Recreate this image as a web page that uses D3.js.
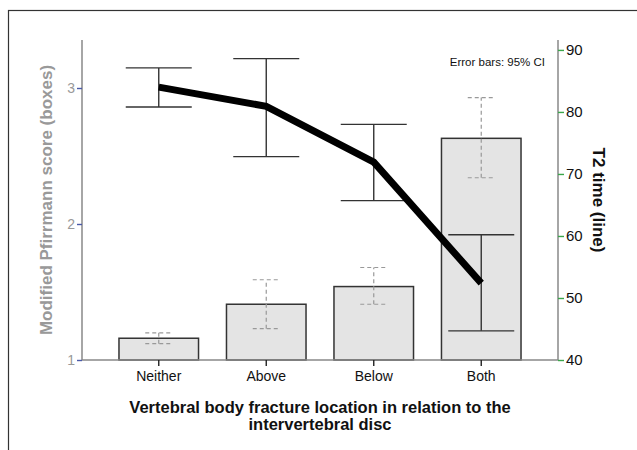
<!DOCTYPE html>
<html>
<head>
<meta charset="utf-8">
<script src="https://cdn.jsdelivr.net/npm/d3@7"></script>
<style>
  body { margin: 0; background: #fff; }
  svg { display: block; font-family: "Liberation Sans", Arial, sans-serif; }
</style>
</head>
<body>
<svg id="chart" width="637" height="450"></svg>
<script>
// values
var categories = ["Neither", "Above", "Below", "Both"];
var pfirrmann = [1.16, 1.41, 1.54, 2.63];     // boxes (left axis)
var pfirrLow = [1.12, 1.23, 1.41, 2.34];
var pfirrHigh = [1.20, 1.59, 1.68, 2.93];
var t2time = [84.0, 80.9, 71.9, 52.4];        // line (right axis)
var t2Low = [80.8, 72.8, 65.7, 44.7];
var t2High = [87.1, 88.6, 78.0, 60.2];
var leftTicks = [1, 2, 3];
var rightTicks = [40, 50, 60, 70, 80, 90];

var svg = d3.select("#chart"),
    plotLeft = 82, plotRight = 558, plotTop = 40, plotBottom = 360;

var x = d3.scaleBand()
    .domain(categories)
    .range([plotLeft, plotRight])
    .paddingInner(0.26)
    .paddingOuter(0.344);
var yL = d3.scaleLinear().domain([1, 3.353]).range([plotBottom, plotTop]);
var yR = d3.scaleLinear().domain([40, 91.6]).range([plotBottom, plotTop]);

// frame around the figure
svg.append("rect")
    .attr("x", 8.5).attr("y", 10.5)
    .attr("width", 700).attr("height", 500)
    .attr("fill", "none").attr("stroke", "#333").attr("stroke-width", 1.2);

var rows = categories.map(function (c, i) {
    return {cat: c, p: pfirrmann[i], pl: pfirrLow[i], ph: pfirrHigh[i],
            t: t2time[i], tl: t2Low[i], th: t2High[i]};
});

// bars
svg.selectAll("rect.bar").data(rows).enter().append("rect")
    .attr("class", "bar")
    .attr("x", function (d) { return x(d.cat); })
    .attr("width", x.bandwidth())
    .attr("y", function (d) { return yL(d.p); })
    .attr("height", function (d) { return yL(1) - yL(d.p); })
    .attr("fill", "#e4e4e4")
    .attr("stroke", "#333")
    .attr("stroke-width", 1.5);

function errorBars(cls, lo, hi, scale, capw, color, dash, sw) {
    var g = svg.selectAll("g." + cls).data(rows).enter().append("g")
        .attr("class", cls)
        .attr("stroke", color).attr("stroke-width", sw)
        .attr("stroke-dasharray", dash);
    var cx = function (d) { return x(d.cat) + x.bandwidth() / 2; };
    g.append("line")
        .attr("x1", cx).attr("x2", cx)
        .attr("y1", function (d) { return scale(d[lo]); })
        .attr("y2", function (d) { return scale(d[hi]); });
    [lo, hi].forEach(function (k) {
        g.append("line")
            .attr("x1", function (d) { return cx(d) - capw / 2; })
            .attr("x2", function (d) { return cx(d) + capw / 2; })
            .attr("y1", function (d) { return scale(d[k]); })
            .attr("y2", function (d) { return scale(d[k]); });
    });
}
errorBars("pci", "pl", "ph", yL, 27, "#999", "4,3", 1.2);
errorBars("tci", "tl", "th", yR, 66, "#333", null, 1.4);

// axes lines
svg.append("line").attr("x1", plotLeft).attr("x2", plotRight).attr("y1", plotBottom).attr("y2", plotBottom)
    .attr("stroke", "#888").attr("stroke-width", 1.5);
svg.append("line").attr("x1", plotLeft).attr("x2", plotLeft).attr("y1", plotTop).attr("y2", plotBottom)
    .attr("stroke", "#888").attr("stroke-width", 1.5);
svg.append("line").attr("x1", plotRight).attr("x2", plotRight).attr("y1", plotTop).attr("y2", plotBottom)
    .attr("stroke", "#888").attr("stroke-width", 1.5);

// left axis
var gl = svg.append("g").attr("transform", "translate(" + plotLeft + ",0)")
    .call(d3.axisLeft(yL).tickValues(leftTicks).tickSize(5).tickPadding(2).tickFormat(d3.format("d")));
gl.select(".domain").remove();
gl.selectAll(".tick line").attr("stroke", "#4a5aa8").attr("stroke-width", 1.4);
gl.selectAll(".tick text").attr("fill", "#999").style("font-size", "14px")
    .style("font-family", "Liberation Sans, Arial, sans-serif");

// right axis
var gr = svg.append("g").attr("transform", "translate(" + plotRight + ",0)")
    .call(d3.axisRight(yR).tickValues(rightTicks).tickSize(6).tickPadding(2));
gr.select(".domain").remove();
gr.selectAll(".tick line").attr("stroke", "#3aa64a").attr("stroke-width", 1.4);
gr.selectAll(".tick text").attr("fill", "#111").style("font-size", "15px")
    .style("font-family", "Liberation Sans, Arial, sans-serif");

// bottom axis ticks and labels
var gb = svg.append("g").attr("transform", "translate(0," + plotBottom + ")")
    .call(d3.axisBottom(x).tickSize(6).tickPadding(5));
gb.select(".domain").remove();
gb.selectAll(".tick line").attr("stroke", "#222").attr("stroke-width", 1.4);
gb.selectAll(".tick text").attr("fill", "#111").style("font-size", "14px")
    .style("font-family", "Liberation Sans, Arial, sans-serif");

// T2 line
var line = d3.line()
    .x(function (d) { return x(d.cat) + x.bandwidth() / 2; })
    .y(function (d) { return yR(d.t); });
svg.append("path").datum(rows)
    .attr("d", line)
    .attr("fill", "none")
    .attr("stroke", "#000")
    .attr("stroke-width", 7);

// titles
svg.append("text")
    .attr("transform", "translate(52,200) rotate(-90)")
    .attr("text-anchor", "middle")
    .attr("fill", "#999").attr("font-weight", "bold").attr("font-size", 17)
    .text("Modified Pfirrmann score (boxes)");
svg.append("text")
    .attr("transform", "translate(593,200) rotate(90)")
    .attr("text-anchor", "middle")
    .attr("fill", "#111").attr("font-weight", "bold").attr("font-size", 17)
    .text("T2 time (line)");
svg.append("text")
    .attr("x", 320).attr("y", 413)
    .attr("text-anchor", "middle")
    .attr("fill", "#111").attr("font-weight", "bold").attr("font-size", 16.5)
    .text("Vertebral body fracture location in relation to the");
svg.append("text")
    .attr("x", 320).attr("y", 430)
    .attr("text-anchor", "middle")
    .attr("fill", "#111").attr("font-weight", "bold").attr("font-size", 16.5)
    .text("intervertebral disc");
svg.append("text")
    .attr("x", 545).attr("y", 66)
    .attr("text-anchor", "end")
    .attr("fill", "#111").attr("font-size", 11.5)
    .text("Error bars: 95% CI");
</script>
</body>
</html>
